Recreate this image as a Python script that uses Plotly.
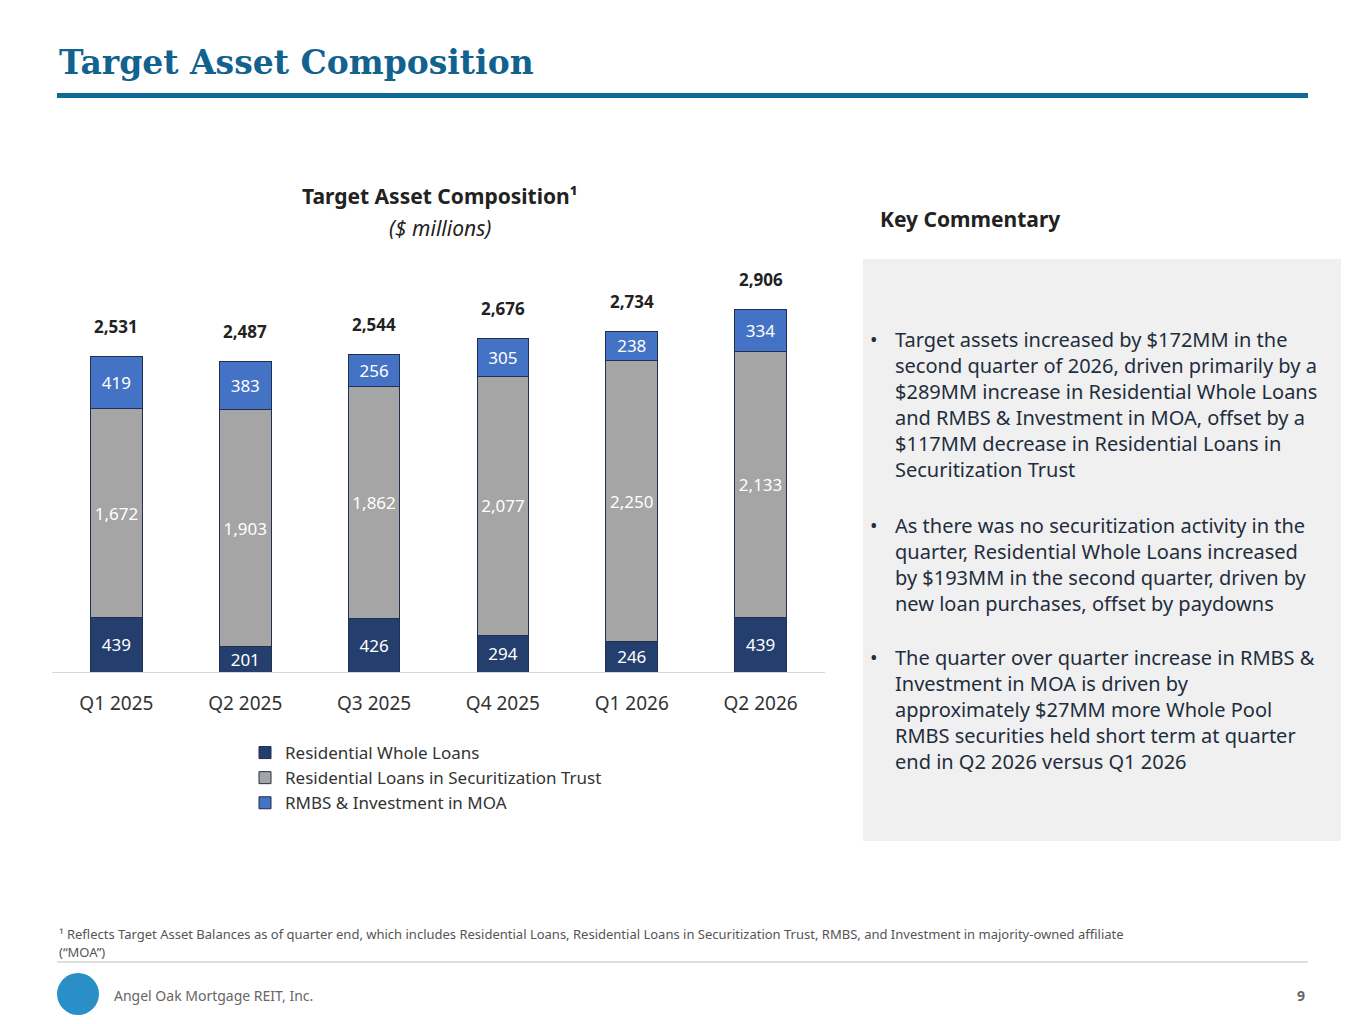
import plotly.graph_objects as go

quarters = ["Q1 2025", "Q2 2025", "Q3 2025", "Q4 2025", "Q1 2026", "Q2 2026"]
whole_loans = [439, 201, 426, 294, 246, 439]
securitized = [1672, 1903, 1862, 2077, 2250, 2133]
rmbs = [419, 383, 256, 305, 238, 334]
totals = [2531, 2487, 2544, 2676, 2734, 2906]

W, H = 1365, 1024
def px(x): return x / W
def py(y): return 1 - y / H

F = "Noto Sans"
fig = go.Figure()
series = [("Residential Whole Loans", whole_loans, "#243f6e", "white"),
          ("Residential Loans in Securitization Trust", securitized, "#a5a5a5", "white"),
          ("RMBS & Investment in MOA", rmbs, "#4472c4", "white")]
for name, vals, col, tc in series:
    fig.add_trace(go.Bar(x=quarters, y=vals, name=name, marker=dict(color=col, line=dict(color="#1f3050", width=1)),
                         width=0.4, text=[f"{v:,}" for v in vals], textposition="inside", textangle=0,
                         constraintext="none", cliponaxis=False,
                         insidetextanchor="middle", textfont=dict(family=F, size=17, color=tc)))
for q, t in zip(quarters, totals):
    fig.add_annotation(x=q, y=t, text=f"<b>{t:,}</b>", showarrow=False, yshift=30,
                       font=dict(family=F, size=17, color="#222"))

fig.update_layout(
    width=W, height=H, margin=dict(l=0, r=0, t=0, b=0), barmode="stack",
    plot_bgcolor="white", paper_bgcolor="white", uniformtext=dict(minsize=17, mode="show"),
    xaxis=dict(domain=[px(52), px(825)], showline=True, linecolor="#d9d9d9", ticks="",
               ticklabelstandoff=14, tickfont=dict(family=F, size=19, color="#333")),
    yaxis=dict(domain=[py(672), py(298)], range=[0, 3000], visible=False),
    legend=dict(x=px(245), y=py(735), xanchor="left", yanchor="top", traceorder="normal",
                font=dict(family=F, size=17, color="#333"), itemwidth=30, tracegroupgap=0),
)

shapes = [
    dict(type="rect", xref="paper", yref="paper", x0=px(57), x1=px(1308), y0=py(98), y1=py(93),
         fillcolor="#0f6a98", line=dict(width=0)),
    dict(type="rect", xref="paper", yref="paper", x0=px(863), x1=px(1341), y0=py(841), y1=py(259),
         fillcolor="#f0f0f0", line=dict(width=0)),
    dict(type="line", xref="paper", yref="paper", x0=px(57), x1=px(1308), y0=py(962), y1=py(962),
         line=dict(color="#bfbfbf", width=1)),
    dict(type="circle", xref="paper", yref="paper", x0=px(57), x1=px(99), y0=py(1015), y1=py(973),
         fillcolor="#2b8fc7", line=dict(width=0)),
]
fig.update_layout(shapes=shapes)

def ann(x, y, text, size, color="#222", anchor="left", bold=False, fam=F):
    fig.add_annotation(xref="paper", yref="paper", x=px(x), y=py(y), text=f"<b>{text}</b>" if bold else text,
                       showarrow=False, xanchor=anchor, yanchor="middle", align="left",
                       font=dict(family=fam, size=size, color=color))

ann(57, 62, "Target Asset Composition", 33, "#11628f", bold=True, fam="DejaVu Serif")
ann(440, 196, "Target Asset Composition¹", 21, "#222", anchor="center", bold=True)
ann(440, 228, "<i>($ millions)</i>", 21, "#222", anchor="center")
ann(878, 219, "Key Commentary", 21, "#222", bold=True)

bullets = [
    (338, ["Target assets increased by $172MM in the", "second quarter of 2026, driven primarily by a",
           "$289MM increase in Residential Whole Loans", "and RMBS & Investment in MOA, offset by a",
           "$117MM decrease in Residential Loans in", "Securitization Trust"]),
    (524, ["As there was no securitization activity in the", "quarter, Residential Whole Loans increased",
           "by $193MM in the second quarter, driven by", "new loan purchases, offset by paydowns"]),
    (656, ["The quarter over quarter increase in RMBS &", "Investment in MOA is driven by",
           "approximately $27MM more Whole Pool", "RMBS securities held short term at quarter",
           "end in Q2 2026 versus Q1 2026"]),
]
for y0, lines in bullets:
    fig.add_annotation(xref="paper", yref="paper", x=px(868), y=py(y0 - 14), text="•", showarrow=False,
                       xanchor="left", yanchor="top", font=dict(family=F, size=20, color="#1f2d3d"))
    fig.add_annotation(xref="paper", yref="paper", x=px(893), y=py(y0 - 14), text="<br>".join(lines),
                       showarrow=False, xanchor="left", yanchor="top", align="left",
                       font=dict(family=F, size=20, color="#1f2d3d"))

ann(57, 934, "¹ Reflects Target Asset Balances as of quarter end, which includes Residential Loans, Residential Loans in Securitization Trust, RMBS, and Investment in majority-owned affiliate", 13, "#555")
ann(57, 952, "(“MOA”)", 13, "#555")
ann(112, 995, "Angel Oak Mortgage REIT, Inc.", 14, "#666")
ann(1307, 995, "9", 14, "#666", anchor="right", bold=True)

fig.write_html("out.html", config={"displayModeBar": False})
with open("out.html", encoding="utf-8") as f:
    html = f.read()
html = html.replace("<body>", '<body style="margin:0;overflow:hidden">', 1)
with open("out.html", "w", encoding="utf-8") as f:
    f.write(html)
